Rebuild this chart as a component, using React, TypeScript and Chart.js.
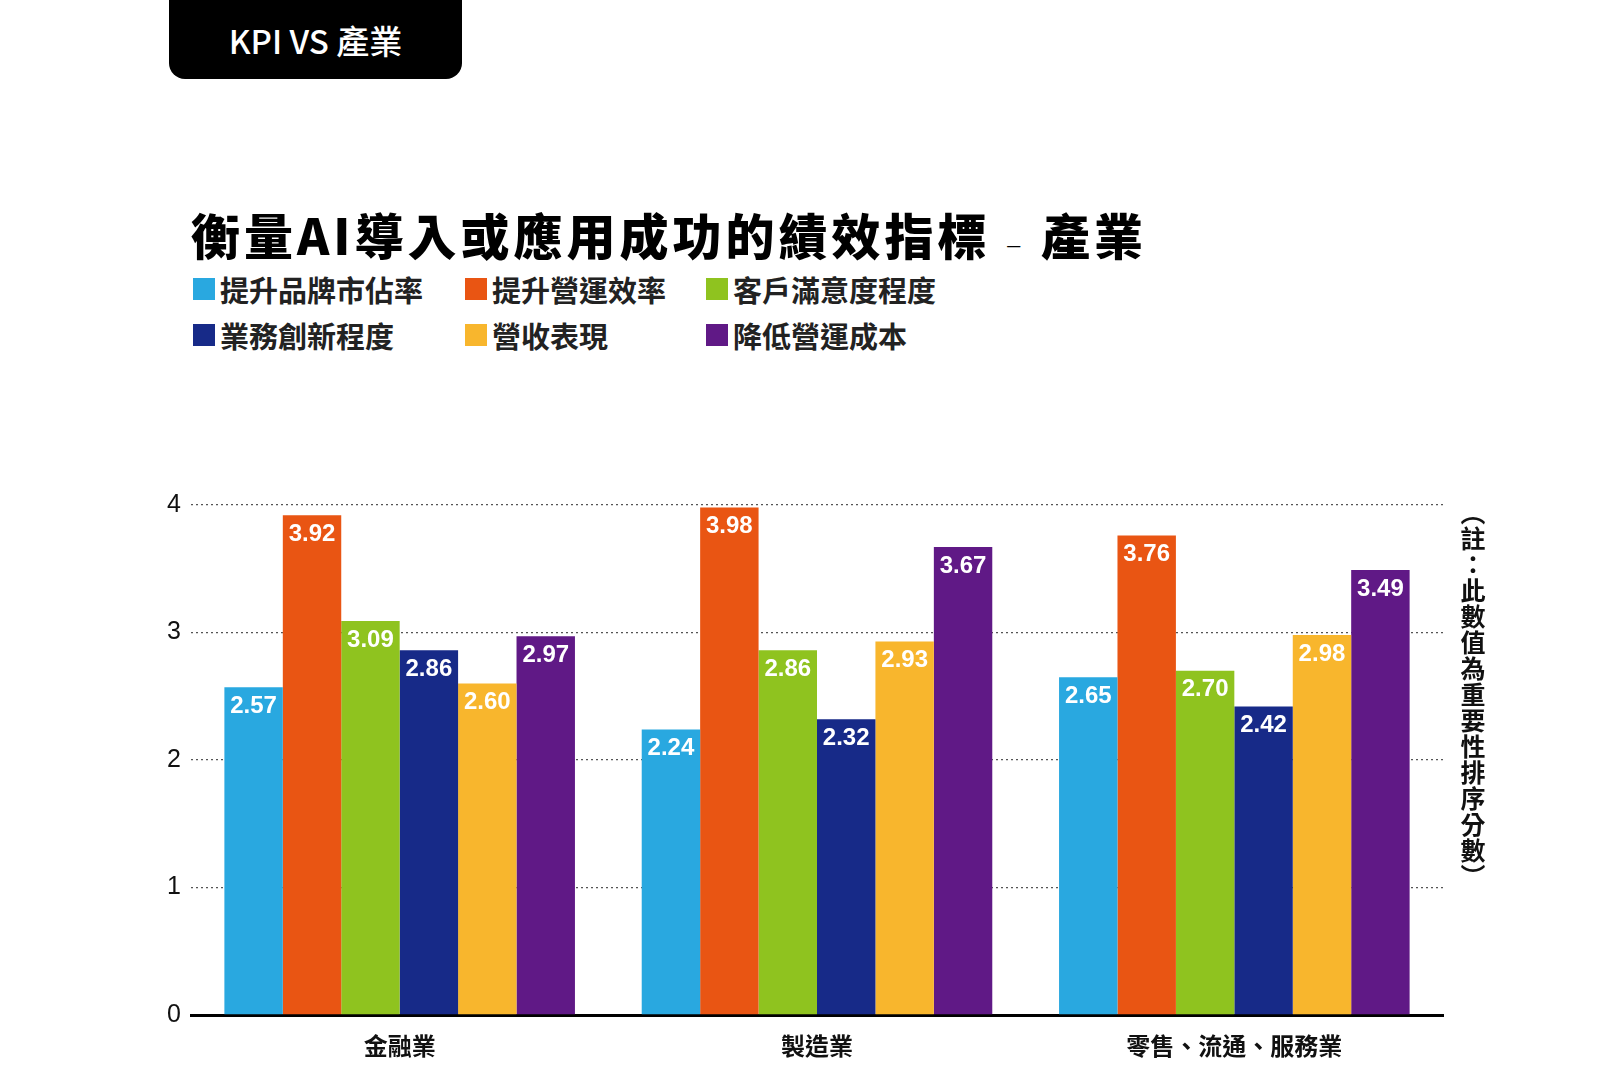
import React, { useEffect, useRef } from "react";
import { Chart, registerables } from "chart.js";
Chart.register(...registerables);

const categories = ["金融業", "製造業", "零售、流通、服務業"];
const seriesNames = ["提升品牌市佔率", "提升營運效率", "客戶滿意度程度", "業務創新程度", "營收表現", "降低營運成本"];
const seriesColors = ["#29a8e0", "#e95513", "#8fc31f", "#172a88", "#f8b62d", "#601986"];
const brand = [2.57, 2.24, 2.65];
const efficiency = [3.92, 3.98, 3.76];
const satisfaction = [3.09, 2.86, 2.70];
const innovation = [2.86, 2.32, 2.42];
const revenue = [2.60, 2.93, 2.98];
const cost = [2.97, 3.67, 3.49];
const seriesValues = [brand, efficiency, satisfaction, innovation, revenue, cost];
const yTicks = [0, 1, 2, 3, 4];

const CJK = '"Noto Sans CJK TC", "Noto Sans", sans-serif';

const labelPlugin = {
  id: "barLabels",
  afterDatasetsDraw(chart: any) {
    const ctx = chart.ctx;
    ctx.save();
    ctx.fillStyle = "#fff";
    ctx.font = 'bold 24px "Liberation Sans", Arial, sans-serif';
    ctx.textAlign = "center";
    ctx.textBaseline = "middle";
    chart.data.datasets.forEach((ds: any, i: number) => {
      chart.getDatasetMeta(i).data.forEach((bar: any, j: number) => {
        ctx.fillText(ds.data[j].toFixed(2), bar.x, bar.y + 19);
      });
    });
    ctx.restore();
  },
};

export default function App() {
  const ref = useRef<HTMLCanvasElement>(null);
  useEffect(() => {
    const chart = new Chart(ref.current!, {
      type: "bar",
      data: {
        labels: categories,
        datasets: seriesNames.map((n, i) => ({
          label: n,
          data: seriesValues[i],
          backgroundColor: seriesColors[i],
          categoryPercentage: 0.84,
          barPercentage: 1,
        })),
      },
      options: {
        animation: false,
        responsive: false,
        layout: { padding: { top: 25, right: 13, bottom: 0, left: 0 } },
        plugins: { legend: { display: false }, tooltip: { enabled: false } },
        scales: {
          x: {
            grid: { display: false },
            border: { display: true, width: 3, color: "#000" },
            ticks: { color: "#111", font: { family: CJK, size: 24, weight: "bold" }, padding: 8 },
            afterFit: (s: any) => { s.height = 55; },
          },
          y: {
            min: 0,
            max: 4,
            afterBuildTicks: (s: any) => { s.ticks = yTicks.map((v) => ({ value: v })); },
            grid: {
              drawTicks: false,
              color: (c: any) => (c.tick && c.tick.value === 0 ? "rgba(0,0,0,0)" : "#555"),
              lineWidth: 1.3,
            },
            border: { display: false, dash: [2, 3] },
            ticks: { color: "#111", font: { family: '"Liberation Sans", Arial', size: 25 }, padding: 10 },
            afterFit: (s: any) => { s.width = 56; },
          },
        },
      },
      plugins: [labelPlugin],
    });
    return () => chart.destroy();
  }, []);

  const legendItem = (i: number) => (
    <div style={{ display: "flex", alignItems: "center", width: i % 3 === 0 ? 272 : 241 }}>
      <span style={{ width: 22, height: 22, background: seriesColors[i], marginRight: 5 }} />
      <span style={{ fontSize: 29, fontWeight: 700, color: "#222" }}>{seriesNames[i]}</span>
    </div>
  );

  return (
    <div style={{ position: "fixed", left: 0, top: 0, width: 1600, height: 1067, background: "#fff", fontFamily: CJK, overflow: "hidden" }}>
      <div style={{ position: "absolute", left: 169, top: 0, width: 293, height: 79, background: "#000", borderRadius: "0 0 16px 16px", color: "#fff", fontSize: 33, display: "flex", alignItems: "center", justifyContent: "center", fontWeight: 500 }}>
        KPI VS 產業
      </div>
      <div style={{ position: "absolute", left: 191, top: 198, fontSize: 49, fontWeight: 900, color: "#000", letterSpacing: 4, whiteSpace: "nowrap" }}>
        衡量AI導入或應用成功的績效指標 <span style={{ fontWeight: 300, fontSize: 30, verticalAlign: "middle" }}>–</span> 產業
      </div>
      <div style={{ position: "absolute", left: 193, top: 268, display: "flex" }}>
        {legendItem(0)}{legendItem(1)}{legendItem(2)}
      </div>
      <div style={{ position: "absolute", left: 193, top: 314, display: "flex" }}>
        {legendItem(3)}{legendItem(4)}{legendItem(5)}
      </div>
      <canvas ref={ref} width={1321} height={590} style={{ position: "absolute", left: 135, top: 480, width: 1321, height: 590 }} />
      <div style={{ position: "absolute", left: 1455, top: 500, writingMode: "vertical-rl", fontSize: 25, fontWeight: 700, color: "#111", letterSpacing: 1 }}>
        （註：此數值為重要性排序分數）
      </div>
    </div>
  );
}
